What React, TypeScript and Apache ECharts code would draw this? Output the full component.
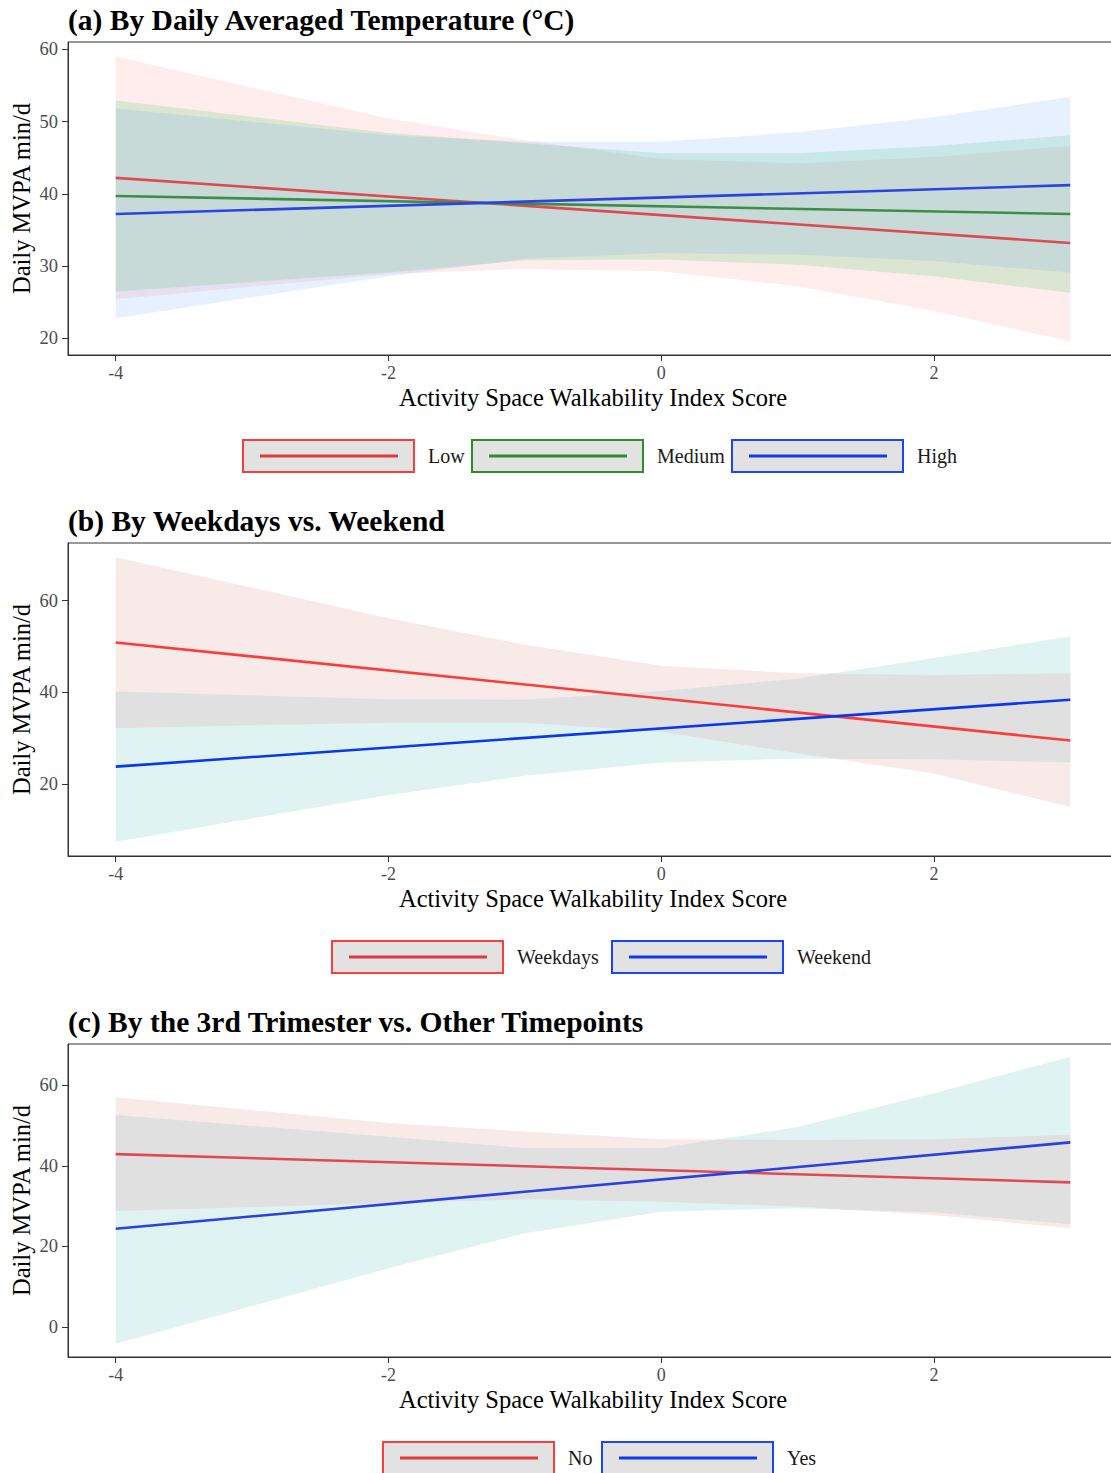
import React, { useEffect, useRef } from "react";
import * as echarts from "echarts";

// ---------- data ----------
const X_TICKS = [-4, -2, 0, 2];
const LINE_X = [-4, 3];
const RIBBON_X = [-4, -2, -1, 0, 1, 2, 3];

// (a) temperature
const A_TITLE = "(a) By Daily Averaged Temperature (°C)";
const A_NAMES = ["Low", "Medium", "High"];
const A_Y_TICKS = [20, 30, 40, 50, 60];
const aLowLine = [42.2, 33.2];
const aMedLine = [39.7, 37.2];
const aHighLine = [37.2, 41.2];
const aLowUpper = [59.0, 50.4, 47.4, 44.8, 44.2, 45.1, 46.6];
const aLowLower = [25.4, 28.9, 29.6, 29.3, 27.2, 23.8, 19.6];
const aMedUpper = [52.9, 48.4, 47.0, 45.6, 45.6, 46.6, 48.1];
const aMedLower = [26.5, 29.1, 30.8, 30.9, 30.2, 28.6, 26.3];
const aHighUpper = [51.8, 48.1, 47.2, 47.2, 48.5, 50.6, 53.4];
const aHighLower = [22.8, 28.6, 31.0, 31.8, 31.6, 30.7, 29.1];

// (b) weekdays vs weekend
const B_TITLE = "(b) By Weekdays vs. Weekend";
const B_NAMES = ["Weekdays", "Weekend"];
const B_Y_TICKS = [20, 40, 60];
const bWkdLine = [50.9, 29.5];
const bWkeLine = [23.8, 38.4];
const bWkdUpper = [69.5, 56.2, 50.4, 45.8, 44.2, 43.8, 44.2];
const bWkdLower = [32.2, 33.4, 33.4, 31.4, 26.7, 22.3, 15.0];
const bWkeUpper = [40.2, 38.5, 38.4, 40.3, 43.0, 47.5, 52.2];
const bWkeLower = [7.4, 17.6, 21.8, 24.7, 25.6, 25.4, 24.7];

// (c) 3rd trimester
const C_TITLE = "(c) By the 3rd Trimester vs. Other Timepoints";
const C_NAMES = ["No", "Yes"];
const C_Y_TICKS = [0, 20, 40, 60];
const cNoLine = [42.9, 35.9];
const cYesLine = [24.4, 45.8];
const cNoUpper = [57.0, 50.6, 48.5, 46.6, 46.4, 46.6, 47.7];
const cNoLower = [28.8, 30.7, 31.7, 31.1, 29.9, 27.8, 24.5];
const cYesUpper = [52.6, 47.2, 44.4, 44.4, 49.6, 58.0, 67.0];
const cYesLower = [-4.1, 14.6, 23.3, 28.6, 29.5, 28.5, 25.5];

const X_NAME = "Activity Space Walkability Index Score";
const Y_NAME = "Daily MVPA min/d";

// ---------- styling ----------
const SERIF = '"Liberation Serif", "Times New Roman", serif';
const PINK = "#F9EAEA";
const TEAL = "#DFF3F2";
const GREY = "#E0E0E0";

const GRIDS = [
  { top: 42, yMin: 17.7, yMax: 61.0, legendY: 440 },
  { top: 543, yMin: 4.3, yMax: 72.6, legendY: 941 },
  { top: 1044, yMin: -7.4, yMax: 70.2, legendY: 1442 },
];
const GRID_LEFT = 68;
const GRID_W = 1050;
const GRID_H = 313;

function lerp(a: number, b: number, t: number) {
  return a + (b - a) * t;
}

function overlapBand(xs: number[], lo1: number[], hi1: number[], lo2: number[], hi2: number[]) {
  const ox: number[] = [];
  const olo: number[] = [];
  const ohi: number[] = [];
  const push = (x: number, l1: number, h1: number, l2: number, h2: number) => {
    ox.push(x);
    olo.push(Math.max(l1, l2));
    ohi.push(Math.min(h1, h2));
  };
  for (let i = 0; i < xs.length; i++) {
    push(xs[i], lo1[i], hi1[i], lo2[i], hi2[i]);
    if (i < xs.length - 1) {
      const ts: number[] = [];
      const dh0 = hi1[i] - hi2[i], dh1 = hi1[i + 1] - hi2[i + 1];
      if (dh0 * dh1 < 0) ts.push(dh0 / (dh0 - dh1));
      const dl0 = lo1[i] - lo2[i], dl1 = lo1[i + 1] - lo2[i + 1];
      if (dl0 * dl1 < 0) ts.push(dl0 / (dl0 - dl1));
      ts.sort((a, b) => a - b);
      for (const t of ts) {
        push(
          lerp(xs[i], xs[i + 1], t),
          lerp(lo1[i], lo1[i + 1], t),
          lerp(hi1[i], hi1[i + 1], t),
          lerp(lo2[i], lo2[i + 1], t),
          lerp(hi2[i], hi2[i + 1], t)
        );
      }
    }
  }
  return { xs: ox, lo: olo, hi: ohi };
}

function ribbon(gi: number, xs: number[], lo: number[], hi: number[], fill: string, z: number) {
  return {
    type: "custom",
    xAxisIndex: gi,
    yAxisIndex: gi,
    silent: true,
    z,
    data: [[xs[0], lo[0]]],
    renderItem: (_params: any, api: any) => {
      const pts: number[][] = [];
      for (let i = 0; i < xs.length; i++) pts.push(api.coord([xs[i], hi[i]]));
      for (let i = xs.length - 1; i >= 0; i--) pts.push(api.coord([xs[i], lo[i]]));
      return { type: "polygon", shape: { points: pts }, style: { fill } };
    },
  };
}

function line(gi: number, name: string, ys: number[], color: string) {
  return {
    type: "line",
    name,
    xAxisIndex: gi,
    yAxisIndex: gi,
    z: 5,
    silent: true,
    showSymbol: false,
    data: LINE_X.map((x, i) => [x, ys[i]]),
    lineStyle: { color, width: 2.6 },
  };
}

function legendGraphics(y: number, starts: number[], names: string[], borders: string[], lines: string[]) {
  const out: any[] = [];
  names.forEach((n, i) => {
    const x = starts[i];
    out.push({
      type: "rect",
      shape: { x, y, width: 171, height: 32 },
      style: { fill: "#E2E2E2", stroke: borders[i], lineWidth: 2 },
    });
    out.push({
      type: "line",
      shape: { x1: x + 17, y1: y + 16, x2: x + 155, y2: y + 16 },
      style: { stroke: lines[i], lineWidth: 3 },
    });
    out.push({
      type: "text",
      style: {
        x: x + 185,
        y: y + 16,
        text: n,
        fill: "#1a1a1a",
        font: `20px ${SERIF}`,
        verticalAlign: "middle",
        align: "left",
      },
    });
  });
  return out;
}

export default function App() {
  const ref = useRef<HTMLDivElement>(null);

  useEffect(() => {
    if (!ref.current) return;
    const chart = echarts.init(ref.current, undefined, { renderer: "svg" });

    const yTicks = [A_Y_TICKS, B_Y_TICKS, C_Y_TICKS];
    const titles = [A_TITLE, B_TITLE, C_TITLE];

    const grid = GRIDS.map((g) => ({
      left: GRID_LEFT,
      top: g.top,
      width: GRID_W,
      height: GRID_H,
      show: true,
      borderColor: "#333",
      borderWidth: 1,
      backgroundColor: "transparent",
      containLabel: false,
      outerBoundsMode: "none",
    }));

    const xAxis = GRIDS.map((_g, i) => ({
      type: "value",
      gridIndex: i,
      min: -4.35,
      max: 3.35,
      name: X_NAME,
      nameLocation: "middle",
      nameGap: 30,
      nameMoveOverlap: false,
      nameTextStyle: { fontFamily: SERIF, fontSize: 24.5, color: "#000" },
      axisLine: { show: true, onZero: false, lineStyle: { color: "#333", width: 1 } },
      axisTick: { show: true, length: 6, lineStyle: { color: "#333" }, customValues: X_TICKS },
      axisLabel: { fontFamily: SERIF, fontSize: 18, color: "#4D4D4D", margin: 9, customValues: X_TICKS },
      splitLine: { show: false },
    }));

    const yAxis = GRIDS.map((g, i) => ({
      type: "value",
      gridIndex: i,
      min: g.yMin,
      max: g.yMax,
      name: Y_NAME,
      nameLocation: "middle",
      nameGap: 34,
      nameMoveOverlap: false,
      nameTextStyle: { fontFamily: SERIF, fontSize: 24.5, color: "#000" },
      axisLine: { show: true, onZero: false, lineStyle: { color: "#333", width: 1 } },
      axisTick: { show: true, length: 6, lineStyle: { color: "#333" }, customValues: yTicks[i] },
      axisLabel: { fontFamily: SERIF, fontSize: 18.5, color: "#4D4D4D", margin: 10, customValues: yTicks[i] },
      splitLine: { show: false },
    }));

    const bOv = overlapBand(RIBBON_X, bWkdLower, bWkdUpper, bWkeLower, bWkeUpper);
    const cOv = overlapBand(RIBBON_X, cNoLower, cNoUpper, cYesLower, cYesUpper);

    const series: any[] = [
      ribbon(0, RIBBON_X, aLowLower, aLowUpper, "rgba(248,118,109,0.13)", 1),
      ribbon(0, RIBBON_X, aMedLower, aMedUpper, "rgba(0,186,56,0.14)", 1),
      ribbon(0, RIBBON_X, aHighLower, aHighUpper, "rgba(97,156,255,0.15)", 1),
      line(0, A_NAMES[0], aLowLine, "#DC4A53"),
      line(0, A_NAMES[1], aMedLine, "#3D8C4A"),
      line(0, A_NAMES[2], aHighLine, "#2B44E0"),

      ribbon(1, RIBBON_X, bWkdLower, bWkdUpper, PINK, 1),
      ribbon(1, RIBBON_X, bWkeLower, bWkeUpper, TEAL, 1),
      ribbon(1, bOv.xs, bOv.lo, bOv.hi, GREY, 2),
      line(1, B_NAMES[0], bWkdLine, "#FF3A3A"),
      line(1, B_NAMES[1], bWkeLine, "#0A36F2"),

      ribbon(2, RIBBON_X, cNoLower, cNoUpper, PINK, 1),
      ribbon(2, RIBBON_X, cYesLower, cYesUpper, TEAL, 1),
      ribbon(2, cOv.xs, cOv.lo, cOv.hi, GREY, 2),
      line(2, C_NAMES[0], cNoLine, "#E04951"),
      line(2, C_NAMES[1], cYesLine, "#2B40E4"),
    ];

    const graphic = [
      ...legendGraphics(GRIDS[0].legendY, [243, 472, 732], A_NAMES,
        ["#FF3B3B", "#2A8C2A", "#1A44FF"], ["#E23A3A", "#2E8B2E", "#1038F0"]),
      ...legendGraphics(GRIDS[1].legendY, [332, 612], B_NAMES,
        ["#FF3B3B", "#1A44FF"], ["#E23A3A", "#1038F0"]),
      ...legendGraphics(GRIDS[2].legendY, [383, 602], C_NAMES,
        ["#FF3B3B", "#1A44FF"], ["#E23A3A", "#1038F0"]),
    ];

    chart.setOption({
      animation: false,
      backgroundColor: "#fff",
      title: titles.map((t, i) => ({
        text: t,
        left: 63,
        top: GRIDS[i].top - 37,
        padding: [0, 5],
        textStyle: { fontFamily: SERIF, fontSize: 29.5, fontWeight: "bold", color: "#000" },
      })),
      grid,
      xAxis,
      yAxis,
      series,
      graphic,
    });

    return () => chart.dispose();
  }, []);

  return (
    <div style={{ position: "absolute", left: 0, top: 0, width: 1111, height: 1473, overflow: "hidden" }}>
      <div ref={ref} style={{ width: 1130, height: 1473 }} />
    </div>
  );
}
